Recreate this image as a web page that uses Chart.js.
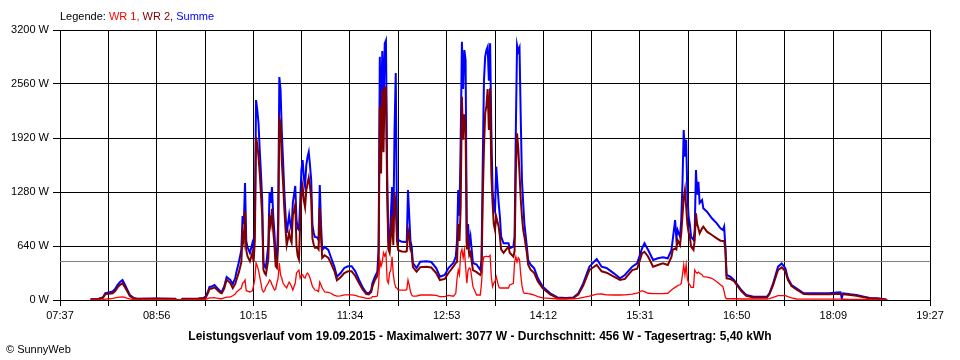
<!DOCTYPE html>
<html><head><meta charset="utf-8">
<script src="https://cdn.jsdelivr.net/npm/chart.js@4.4.0/dist/chart.umd.min.js"></script>
<style>
html,body{margin:0;padding:0;background:#fff;}
#wrap{position:relative;width:960px;height:360px;overflow:hidden;background:#fff;}
canvas{position:absolute;left:0;top:0;}
.t{position:absolute;white-space:nowrap;font-family:"Liberation Sans",Arial,sans-serif;color:#000;}
#legend{left:60px;top:11px;font-size:11px;line-height:11px;}
#title{left:0;width:960px;text-align:center;top:330px;font-size:12px;line-height:12px;font-weight:bold;}
#copy{left:6px;top:344px;font-size:11px;line-height:11px;}
</style></head><body>
<div id="wrap">
<canvas id="c" width="960" height="360"></canvas>
<div class="t" id="legend">Legende: <span style="color:#ff0000">WR 1,</span> <span style="color:#800000">WR 2,</span> <span style="color:#0000ff">Summe</span></div>
<div class="t" id="title">Leistungsverlauf vom 19.09.2015 - Maximalwert: 3077 W - Durchschnitt: 456 W - Tagesertrag: 5,40 kWh</div>
<div class="t" id="copy">© SunnyWeb</div>
</div>
<script>
const xStart = '07:37';
const xEnd = '19:27';
const xTickLabels = ['07:37','08:56','10:15','11:34','12:53','14:12','15:31','16:50','18:09','19:27'];
const yTickValues = [0, 640, 1280, 1920, 2560, 3200];
const averageW = 456;

const times = ['08:02','08:08','08:12','08:14','08:17','08:20','08:22','08:24','08:26','08:28','08:30','08:32','08:34','08:37','08:40','08:55','09:11','09:12','09:16','09:17','09:30','09:34','09:36','09:38','09:39','09:41','09:43','09:44','09:46','09:48','09:49','09:51','09:53','09:55','09:56','09:58',
'10:00','10:01','10:03','10:05','10:06','10:07','10:08','10:09','10:10','10:12','10:14','10:15','10:16','10:17','10:18','10:19','10:20','10:21','10:22','10:23','10:24','10:25','10:27','10:28','10:29','10:30','10:31','10:32','10:33','10:34','10:35','10:36','10:37','10:38','10:39','10:40','10:41','10:42','10:43','10:44','10:45','10:46','10:47','10:48','10:49','10:50','10:51','10:52','10:53','10:54','10:55','10:56','10:57','10:58','10:59',
'11:00','11:01','11:02','11:03','11:04','11:05','11:07','11:08','11:09','11:10','11:11','11:13','11:16','11:18','11:21','11:23','11:26','11:29','11:32','11:35','11:38','11:41','11:44','11:47','11:49','11:51','11:52','11:54','11:56','11:57','11:58','11:59',
'12:00','12:01','12:02','12:03','12:04','12:05','12:06','12:07','12:08','12:09','12:10','12:11','12:12','12:13','12:16','12:19','12:20','12:21','12:22','12:23','12:24','12:25','12:28','12:31','12:36','12:40','12:44','12:47','12:51','12:54','12:58',
'13:00','13:01','13:02','13:03','13:04','13:05','13:06','13:07','13:08','13:09','13:10','13:11','13:12','13:14','13:17','13:20','13:21','13:22','13:23','13:24','13:25','13:26','13:27','13:28','13:29','13:30','13:31','13:32','13:33','13:35','13:36','13:37','13:39','13:43','13:44','13:47','13:48','13:49','13:50','13:51','13:52','13:53','13:54','13:55','13:56','13:58','13:59',
'14:01','14:04','14:07','14:11','14:17','14:23','14:30','14:36','14:40','14:44','14:49','14:55','14:59','15:03','15:09','15:14','15:18','15:24','15:28','15:32','15:34','15:37','15:41','15:45','15:49','15:53','15:56','15:57','15:59',
'16:00','16:01','16:03','16:04','16:05','16:06','16:07','16:08','16:09','16:10','16:11','16:12','16:14','16:15','16:16','16:17','16:18','16:19','16:21','16:22','16:25','16:29','16:33','16:36','16:38','16:39','16:40','16:41','16:44','16:47','16:49','16:53','16:57',
'17:03','17:14','17:16','17:19','17:23','17:26','17:29','17:31','17:34','17:38','17:44','17:49','18:05','18:08','18:14','18:15','18:16','18:22','18:27','18:33','18:38','18:44','18:50','18:52'];

const summe = [10,12,30,80,90,100,130,180,215,237,180,120,60,25,15,18,15,0,0,15,18,25,40,110,155,160,178,165,130,100,95,160,273,250,237,190,
260,332,450,593,995,900,1387,700,628,557,675,593,900,2370,2252,2098,1778,1500,1185,450,400,379,652,1268,1150,1339,1000,794,498,498,900,2642,2489,2000,1659,1300,1031,794,900,1007,900,830,1150,1250,1351,948,850,830,1150,1540,1659,1450,1351,1600,1695,
1754,1600,1422,889,800,747,740,711,1363,900,593,628,593,510,391,276,320,380,400,400,340,240,150,85,80,118,200,276,336,600,2884,2000,
2950,2200,3040,3077,1500,700,650,1000,1340,800,2000,2690,900,711,690,687,700,1304,1000,700,632,438,379,454,460,450,379,276,296,379,438,
513,700,1304,1000,1896,3061,2500,2963,2844,675,900,660,750,438,420,355,474,1620,2607,2884,2963,3000,2600,3042,2015,1304,1100,1050,1580,1150,987,750,672,672,612,632,750,2015,3022,2950,2990,2172,1422,1150,900,632,474,
420,375,257,158,79,30,25,30,79,197,395,486,395,380,316,257,296,395,434,612,672,593,474,494,506,494,593,711,948,
731,830,750,948,1383,2015,1700,1900,1250,987,900,750,711,830,1540,1250,1400,1150,1185,1086,1047,968,909,849,830,870,632,296,276,237,197,118,59,
39,39,79,197,395,434,375,257,178,138,79,79,79,87,91,20,80,67,59,39,24,20,8,0];

const wr2 = [8,10,25,70,75,80,105,150,180,200,150,100,48,20,12,14,12,0,0,12,14,20,30,90,130,135,150,140,110,85,80,135,240,215,200,140,
190,240,330,450,790,700,1050,590,520,460,560,450,700,1930,1840,1700,1500,1250,1000,360,320,300,480,1000,900,1080,820,650,400,380,640,2150,2100,1650,1400,1100,850,650,720,800,720,680,1000,1060,1130,640,520,480,900,1250,1350,1180,1100,1300,1380,
1450,1350,1200,730,660,620,620,600,1100,750,500,530,500,440,340,235,270,320,340,340,285,200,125,70,65,95,160,237,285,420,2300,1500,
2500,1750,2520,2520,1250,600,560,750,1000,650,1270,1100,700,590,575,572,580,830,760,600,560,390,336,390,395,385,320,237,250,320,395,
440,450,900,700,1100,2410,1900,2200,2000,600,700,530,560,355,330,296,330,1200,1800,2212,2300,2500,2015,2509,1500,1150,900,830,987,870,750,600,560,632,560,513,580,1500,1975,1800,1501,1200,987,830,750,560,420,
360,320,220,138,65,25,20,25,65,170,355,415,340,324,276,237,250,355,370,553,572,513,395,415,434,415,510,593,610,
600,711,650,790,1000,1200,1304,1106,900,800,750,632,593,711,1027,900,850,790,850,869,810,770,731,703,700,700,600,257,250,225,185,105,50,
30,30,70,180,355,387,340,240,165,125,70,67,67,70,70,70,67,58,50,32,20,15,6,0];

const wr1 = [2,2,5,10,15,20,25,30,35,37,30,20,12,5,3,4,3,0,0,3,4,5,10,20,25,25,28,25,20,15,15,25,33,35,37,50,
70,92,118,142,200,210,237,110,105,95,110,170,250,438,403,355,273,200,118,95,110,154,201,237,220,180,150,118,130,200,260,438,296,260,201,180,160,142,180,213,190,160,118,160,201,320,340,355,260,290,300,270,260,300,320,
300,260,213,160,140,118,110,100,213,180,142,95,90,80,55,45,50,60,60,60,55,40,30,20,20,25,40,40,47,180,474,400,
450,560,520,560,230,200,320,360,513,300,200,150,140,118,118,118,125,237,180,100,60,45,45,59,60,59,55,39,40,55,45,
79,250,355,300,557,600,500,593,400,200,350,380,370,158,59,59,200,438,513,513,520,513,513,530,276,158,200,220,276,158,142,142,142,142,178,197,450,513,450,500,480,300,170,100,79,79,75,
71,59,40,25,20,12,12,15,20,30,45,70,71,60,59,59,60,70,80,110,100,80,75,75,75,80,118,130,150,
158,170,180,197,300,415,300,420,250,200,180,150,150,355,330,316,330,316,300,276,270,257,217,180,158,99,30,15,15,15,15,12,12,
12,12,15,30,51,51,51,40,25,12,10,10,10,10,10,8,10,8,8,7,5,5,2,0];

function toMin(s){ return parseInt(s.slice(0,2),10)*60 + parseInt(s.slice(3,5),10); }
const x0 = toMin(xStart), x1 = toMin(xEnd);
const gridX = [];
for (let i = 0; i <= 18; i++) gridX.push(x0 + (x1 - x0) * i / 18);

function series(vals){ return times.map((t,i)=>({x: toMin(t), y: vals[i]})); }

const font = {family: '"Liberation Sans", Arial, sans-serif', size: 11};

new Chart(document.getElementById('c'), {
  type: 'line',
  data: {
    datasets: [
      {label:'WR 1', data: series(wr1), borderColor:'#ff0000', borderWidth:1.3, pointRadius:0, tension:0, fill:false},
      {label:'WR 2', data: series(wr2), borderColor:'#800000', borderWidth:2, pointRadius:0, tension:0, fill:false},
      {label:'Summe', data: series(summe), borderColor:'#0000ff', borderWidth:2, pointRadius:0, tension:0, fill:false},
      {label:'Durchschnitt', data:[{x:x0,y:averageW},{x:x1,y:averageW}], borderColor:'#808080', borderWidth:1, pointRadius:0, tension:0, fill:false}
    ]
  },
  options: {
    responsive:false, animation:false, devicePixelRatio:1,
    layout:{padding:{top:30,right:30,left:0,bottom:0}},
    plugins:{legend:{display:false}, tooltip:{enabled:false}, title:{display:false}},
    events: [],
    scales:{
      x:{type:'linear', min:x0, max:x1,
        afterBuildTicks: s => { s.ticks = gridX.map(v => ({value:v})); },
        afterFit: s => { s.height = 60; },
        ticks:{autoSkip:false, maxRotation:0, minRotation:0, color:'#000', font, padding:3,
          callback:(v,i)=> (i%2===0 ? xTickLabels[i/2] : '')},
        grid:{color:'#000', lineWidth:1, tickLength:6, drawTicks:true},
        border:{color:'#000', width:1}
      },
      y:{min:0, max:3200,
        afterBuildTicks: s => { s.ticks = yTickValues.map(v => ({value:v})); },
        afterFit: s => { s.width = 60; },
        ticks:{color:'#000', font, padding:4, callback:v=> v + ' W'},
        grid:{color:'#000', lineWidth:1, tickLength:7, drawTicks:true},
        border:{color:'#000', width:1}
      }
    }
  }
});
</script>
</body></html>
